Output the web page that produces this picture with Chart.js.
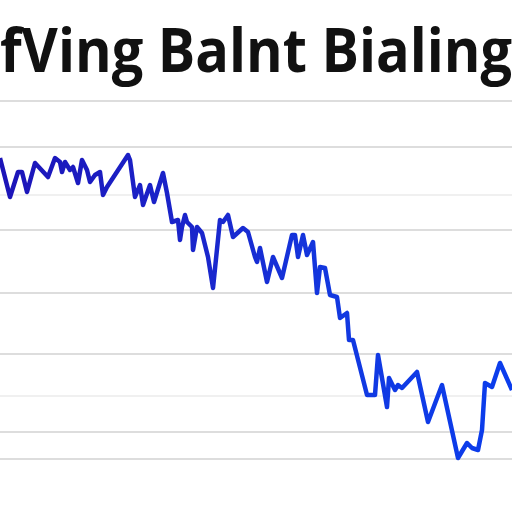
<!DOCTYPE html>
<html>
<head>
<meta charset="utf-8">
<script src="https://cdn.jsdelivr.net/npm/chart.js@4/dist/chart.umd.min.js"></script>
<style>
  html, body { margin: 0; padding: 0; background: #ffffff; }
  #wrap { width: 512px; height: 512px; }
</style>
</head>
<body>
<div id="wrap"><canvas id="c" width="512" height="512"></canvas></div>
<script>
const titleText = "fVing Balnt Bialing";
const xValues = [0,10,18,22,27,35,48,55,60,62,65,70,73,78,82,87,90,95,100,103,107,128,130,135,140,143,150,154,163,167,172,178,180,182,185,187,192,193,197,202,208,213,220,223,228,233,243,248,255,257,260,267,273,282,292,295,298,303,307,313,317,320,325,330,337,340,347,349,353,367,375,378,387,389,395,398,402,417,428,442,458,467,472,478,482,485,492,500,512];
const seriesValues = [301,262,287,287,267,296,282,301,297,287,297,289,292,276,299,289,277,284,287,264,272,304,299,262,274,254,274,257,286,266,237,239,219,232,244,237,232,209,232,226,202,171,239,237,244,222,231,227,202,197,211,177,202,181,224,224,202,224,204,217,166,192,191,164,162,141,146,119,119,64,64,104,52,81,69,74,71,87,37,74,1,16,11,9,29,76,72,96,69];
const gridTicks = [0,27,63,105,166,229,264,312,358];
const faintTicks = [63,264];

const points = xValues.map((x, i) => ({ x: x, y: seriesValues[i] }));

new Chart(document.getElementById('c'), {
  type: 'line',
  data: {
    datasets: [{
      data: points,
      borderWidth: 4.5,
      pointRadius: 0,
      tension: 0,
      fill: false,
      clip: false,
      borderJoinStyle: 'round',
      borderColor: (ctx) => {
        const chart = ctx.chart;
        const a = chart.chartArea;
        if (!a) return '#1428d0';
        const g = chart.ctx.createLinearGradient(a.left, 0, a.right, 0);
        g.addColorStop(0, '#1c14b8');
        g.addColorStop(0.4, '#1a26cc');
        g.addColorStop(0.65, '#1238e0');
        g.addColorStop(1, '#0b3ded');
        return g;
      }
    }]
  },
  options: {
    responsive: false,
    animation: false,
    devicePixelRatio: 1,
    layout: { padding: { left: 0, right: 0, top: 0, bottom: 53 } },
    plugins: {
      legend: { display: false },
      tooltip: { enabled: false },
      title: {
        display: true,
        text: titleText,
        align: 'end',
        color: '#111111',
        font: { family: 'Open Sans', size: 60, weight: '700', lineHeight: 1.2 },
        padding: { top: 19, bottom: 10 }
      }
    },
    scales: {
      x: {
        type: 'linear',
        min: 0,
        max: 512,
        display: false
      },
      y: {
        type: 'linear',
        min: 0,
        max: 358,
        afterBuildTicks: (scale) => { scale.ticks = gridTicks.map(v => ({ value: v })); },
        ticks: { display: false },
        border: { display: false },
        grid: {
          drawTicks: false,
          lineWidth: 2,
          color: (ctx) => faintTicks.includes(ctx.tick && ctx.tick.value) ? '#f0f0f0' : '#dddddd'
        }
      }
    }
  }
});
</script>
</body>
</html>
